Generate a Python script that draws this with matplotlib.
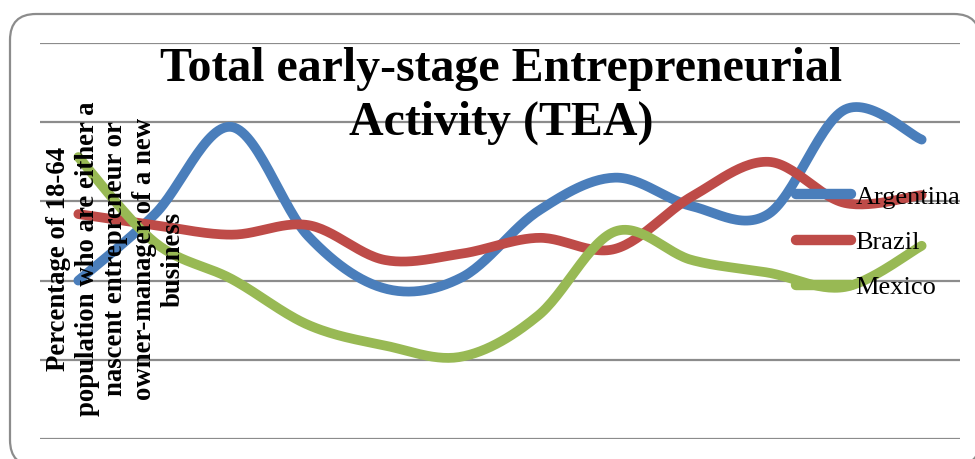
import numpy as np
import matplotlib
matplotlib.use("Agg")
import matplotlib.pyplot as plt
from matplotlib.patches import FancyBboxPatch

plt.rcParams['font.family'] = ['Liberation Serif', 'DejaVu Serif']

years = [2001, 2002, 2003, 2004, 2005, 2006, 2007, 2008, 2009, 2010, 2011, 2012]
argentina = [10.0, 14.2, 19.7, 12.8, 9.5, 10.2, 14.4, 16.5, 14.7, 14.2, 20.8, 18.9]
brazil = [14.2, 13.5, 12.9, 13.5, 11.3, 11.7, 12.7, 12.0, 15.3, 17.5, 14.9, 15.4]
mexico = [17.8, 12.4, 10.1, 7.2, 5.9, 5.2, 7.8, 13.1, 11.3, 10.5, 9.6, 12.2]

series = [("Argentina", argentina, "#4A7EBB"),
          ("Brazil", brazil, "#BE4B48"),
          ("Mexico", mexico, "#98B954")]


def smooth(x, y, steps=30):
    # Catmull-Rom style bezier smoothing, like a spreadsheet "smoothed line"
    x = np.asarray(x, float)
    y = np.asarray(y, float)
    px = np.concatenate([[x[0]], x, [x[-1]]])
    py = np.concatenate([[y[0]], y, [y[-1]]])
    t = np.linspace(0, 1, steps)
    xs, ys = [], []
    for i in range(1, len(px) - 2):
        b0 = np.array([px[i], py[i]])
        b3 = np.array([px[i + 1], py[i + 1]])
        b1 = b0 + (np.array([px[i + 1], py[i + 1]]) - np.array([px[i - 1], py[i - 1]])) / 6
        b2 = b3 - (np.array([px[i + 2], py[i + 2]]) - np.array([px[i], py[i]])) / 6
        pts = ((1 - t) ** 3)[:, None] * b0 + (3 * (1 - t) ** 2 * t)[:, None] * b1 \
            + (3 * (1 - t) * t ** 2)[:, None] * b2 + (t ** 3)[:, None] * b3
        xs.append(pts[:, 0])
        ys.append(pts[:, 1])
    return np.concatenate(xs), np.concatenate(ys)


fig = plt.figure(figsize=(9.75, 4.59), dpi=100)

# rounded chart frame drawn in pixel space
bg = fig.add_axes([0, 0, 1, 1])
bg.set_xlim(0, 975)
bg.set_ylim(459, 0)
bg.axis("off")
bg.add_patch(FancyBboxPatch((10, 14), 970, 452, boxstyle="round,pad=0,rounding_size=26",
                            facecolor="white", edgecolor="#8c8c8c", linewidth=1.6))

ax = fig.add_axes([40 / 975, 20 / 459, 920 / 975, 396 / 459])
ax.patch.set_alpha(0)
xpos = np.arange(len(years))
for name, vals, color in series:
    sx, sy = smooth(xpos, vals)
    ax.plot(sx, sy, color=color, linewidth=7, solid_capstyle="round",
            solid_joinstyle="round", label=name)

ax.set_xlim(-0.5, len(years) - 0.5)
ax.set_ylim(0, 25)
ax.set_yticks(np.arange(0, 26, 5))
ax.set_xticks([])
ax.tick_params(left=False, labelleft=False)
ax.grid(axis="y", color="#8c8c8c", linewidth=1.6)
ax.set_axisbelow(True)
for s in ax.spines.values():
    s.set_visible(False)

leg = ax.legend(loc="center left", bbox_to_anchor=(796 / 975, 1 - 242 / 459),
                bbox_transform=fig.transFigure, frameon=False, fontsize=19,
                handlelength=2.1, handletextpad=0.15, labelspacing=0.82,
                borderpad=0, borderaxespad=0)
for h in leg.get_lines():
    h.set_solid_capstyle("round")
    h.set_linewidth(7.5)

fig.text(501 / 975, 1 - 96 / 459, "Total early-stage Entrepreneurial\nActivity (TEA)",
         ha="center", va="center", fontsize=34.5, fontweight="bold", linespacing=1.28)

fig.text(116 / 975, 1 - 259 / 459,
         "Percentage of 18-64\npopulation who are either a\nnascent entrepreneur or\n"
         "owner-manager of a new\nbusiness",
         ha="center", va="center", rotation=90, fontsize=19.3, fontweight="bold",
         linespacing=1.2, multialignment="center")

fig.savefig("out.png", dpi=100)
